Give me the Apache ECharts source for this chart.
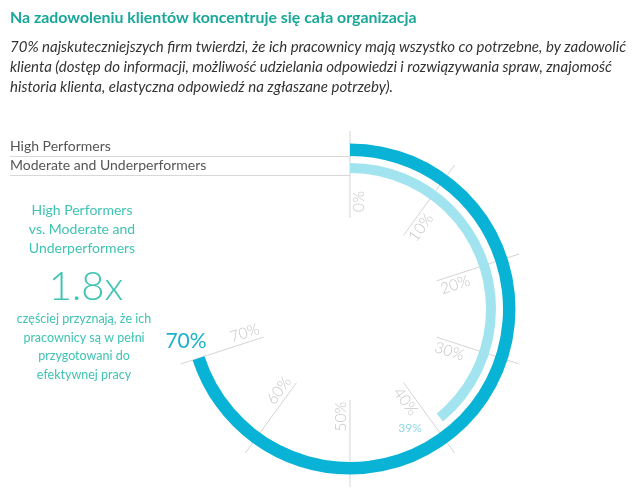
<!DOCTYPE html>
<html>
<head>
<meta charset="utf-8">
<script src="https://cdn.jsdelivr.net/npm/echarts@6/dist/echarts.min.js"></script>
<style>html,body{margin:0;padding:0;background:#fff}#main{width:640px;height:499px}</style>
</head>
<body>
<div id="main"></div>
<script>
// ---- data ----
const titleText = 'Na zadowoleniu klientów koncentruje się cała organizacja';
const subtitleLines = [
  '70% najskuteczniejszych firm twierdzi, że ich pracownicy mają wszystko co potrzebne, by zadowolić',
  'klienta (dostęp do informacji, możliwość udzielania odpowiedzi i rozwiązywania spraw, znajomość',
  'historia klienta, elastyczna odpowiedź na zgłaszane potrzeby).'
];
const groups = ['High Performers', 'Moderate and Underperformers'];
const values = [70, 39];
const ticks = [0, 10, 20, 30, 40, 50, 60, 70];
const tickLabels = ['0%', '10%', '20%', '30%', '40%', '50%', '60%', '70%'];
const leftTop = ['High Performers', 'vs. Moderate and', 'Underperformers'];
const multiplier = '1.8x';
const leftBottom = ['częściej przyznają, że ich', 'pracownicy są w pełni', 'przygotowani do', 'efektywnej pracy'];

// ---- styles ----
const FONT = 'Lato';
const CX = 350, CY = 309;
const darkColor = '#08b3d5';
const lightColor = '#a2e3f0';
const teal = '#1aa79a';
const teal2 = '#3fc3b3';

const chart = echarts.init(document.getElementById('main'), null, {renderer: 'canvas'});

function ringGauge(idx, radius, width, color, labelColor, labelSize, offset) {
  return {
    type: 'gauge', z: 3,
    center: [CX, CY], radius: radius,
    startAngle: 90, endAngle: -270, min: 0, max: 100,
    progress: {show: true, width: width, overlap: true, itemStyle: {color: color}},
    axisLine: {show: false}, axisTick: {show: false}, splitLine: {show: false},
    axisLabel: {show: false}, pointer: {show: false}, anchor: {show: false},
    title: {show: false},
    detail: {
      show: true, offsetCenter: offset, formatter: '{value}%',
      color: labelColor, fontSize: labelSize, fontFamily: FONT, fontWeight: 'normal',
      valueAnimation: false
    },
    data: [{value: values[idx], name: groups[idx]}]
  };
}

const option = {
  animation: false,
  title: {
    text: titleText,
    subtext: subtitleLines.join('\n'),
    left: 10, top: 10, padding: 0, itemGap: 11,
    textStyle: {color: teal, fontFamily: FONT, fontWeight: 'bold', fontSize: 15.9},
    subtextStyle: {color: '#333', fontFamily: FONT, fontStyle: 'italic', fontSize: 15, lineHeight: 20}
  },
  polar: {center: [CX, CY], radius: 178},
  angleAxis: {type: 'value', min: 0, max: 100, startAngle: 90, clockwise: true, show: false},
  radiusAxis: {type: 'value', min: 0, max: 178, show: false},
  graphic: [
    {type: 'text', left: 10, top: 139, style: {text: groups[0], fontFamily: FONT, fontSize: 14, fill: '#555'}},
    {type: 'line', shape: {x1: 10, y1: 156.5, x2: CX, y2: 156.5}, style: {stroke: '#d8d8d8', lineWidth: 1}},
    {type: 'text', left: 10, top: 158, style: {text: groups[1], fontFamily: FONT, fontSize: 14, fill: '#555'}},
    {type: 'line', shape: {x1: 10, y1: 175.5, x2: CX, y2: 175.5}, style: {stroke: '#d8d8d8', lineWidth: 1}},
    {type: 'text', x: 82, y: 201, style: {text: leftTop.join('\n'), align: 'center', verticalAlign: 'top', fontFamily: FONT, fontSize: 14, lineHeight: 19, fill: teal2}},
    {type: 'text', x: 86, y: 267, style: {text: multiplier, align: 'center', verticalAlign: 'top', fontFamily: FONT, fontWeight: 300, fontSize: 40, fill: teal2}},
    {type: 'text', x: 84, y: 310, style: {text: leftBottom.join('\n'), align: 'center', verticalAlign: 'top', fontFamily: FONT, fontSize: 12.5, lineHeight: 18.5, fill: teal2}}
  ],
  series: [
    {
      type: 'custom', coordinateSystem: 'polar', z: 1, silent: true,
      data: ticks.map((v, i) => [v, i]),
      renderItem: function (params, api) {
        const v = api.value(0);
        const i = api.value(1);
        const p1 = api.coord([91, v]);
        const p2 = api.coord([178, v]);
        const pl = api.coord([108, v + 1.4]);
        let phi = 90 - v / 100 * 360;
        if (phi <= -90) phi += 180;
        return {
          type: 'group',
          children: [
            {type: 'line', shape: {x1: p1[0], y1: p1[1], x2: p2[0], y2: p2[1]}, style: {stroke: '#d4d4d4', lineWidth: 1}},
            {type: 'text', x: pl[0], y: pl[1], rotation: phi * Math.PI / 180,
              style: {text: tickLabels[i], align: 'center', verticalAlign: 'middle', fontFamily: FONT, fontWeight: 300, fontSize: 15.5, fill: '#c6c6c6'}}
          ]
        };
      }
    },
    ringGauge(0, 165.5, 12.5, darkColor, '#1ab0c9', 21, [-164, 32]),
    ringGauge(1, 146, 10, lightColor, '#8fd6e6', 12, [60, 119])
  ]
};
chart.setOption(option);
</script>
</body>
</html>
